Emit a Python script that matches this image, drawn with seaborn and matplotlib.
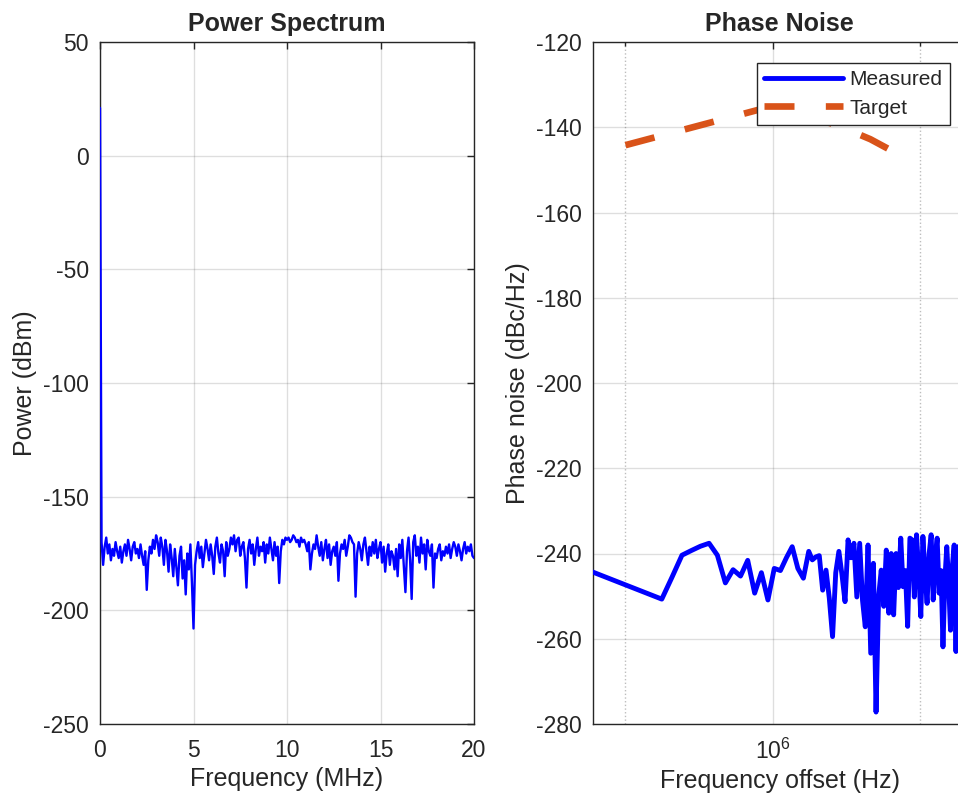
import numpy as np
import pandas as pd
import seaborn as sns
import matplotlib.pyplot as plt
from matplotlib.ticker import FixedLocator, NullFormatter, LogFormatterMathtext

# power spectrum (dBm), one value every 1/12 MHz from 0 to 20 MHz
power_dbm = [
    21, -170, -180, -172, -168, -175, -171, -178, -173, -176, -170, -174,
    -177, -172, -179, -174, -171, -176, -169, -173, -178, -172, -170, -175,
    -173, -177, -171, -176, -180, -174, -191, -178, -172, -175, -169, -173,
    -167, -170, -176, -168, -172, -180, -169, -174, -183, -171, -177, -185,
    -173, -181, -189, -176, -172, -186, -178, -193, -175, -182, -171, -188,
    -208, -180, -174, -170, -177, -172, -181, -175, -169, -173, -178, -171,
    -176, -184, -172, -168, -175, -179, -171, -174, -185, -170, -176, -173,
    -168, -171, -167, -174, -169, -168, -176, -172, -170, -177, -190, -173,
    -169, -175, -171, -180, -173, -168, -176, -172, -174, -170, -179, -171,
    -175, -168, -173, -178, -170, -176, -172, -188, -174, -169, -171, -168,
    -169, -168, -170, -169, -167, -168, -170, -169, -172, -168, -170, -169,
    -171, -174, -170, -182, -175, -171, -173, -167, -172, -176, -170, -178,
    -173, -169, -177, -171, -180, -174, -172, -176, -170, -187, -175, -171,
    -173, -169, -176, -172, -167, -168, -170, -171, -194, -175, -170, -173,
    -178, -171, -168, -174, -180, -172, -176, -170, -175, -169, -177, -173,
    -170, -179, -172, -183, -175, -171, -180, -174, -176, -182, -173, -185,
    -171, -177, -169, -181, -192, -174, -168, -178, -195, -170, -167, -176,
    -172, -179, -168, -175, -171, -182, -169, -174, -176, -171, -190, -175,
    -177, -173, -171, -178, -174, -176, -172, -175, -171, -177, -173, -170,
    -172, -176, -171, -174, -178, -173, -170, -175, -172, -174, -171, -176,
    -177,
]

# phase noise, measured (offset in kHz)
offset_khz = [
    390, 593, 622.5, 652, 681.5, 711, 740.5, 770, 799.5, 829, 858.5,
    888, 917.5, 947, 976.5, 1006, 1035.5, 1065, 1094.5, 1124, 1153.5,
    1183, 1203, 1223, 1243, 1263, 1283, 1303, 1323, 1343, 1363,
    1383, 1403, 1423, 1443, 1463, 1483, 1503, 1523, 1543, 1563,
    1583, 1603, 1623, 1643, 1663, 1683, 1703, 1723, 1743, 1763,
    1783, 1803, 1823, 1843, 1863, 1883, 1903, 1923, 1943, 1963,
    1983, 2003, 2023, 2043, 2063, 2083, 2103, 2123, 2143, 2163,
    2183, 2203, 2223, 2243, 2263, 2283, 2303, 2323, 2343, 2363,
    2383, 2403, 2423, 2443, 2463, 2483,
]
measured_dbc = [
    -242.5, -250.7, -245.5, -240.4, -239.3, -238.3, -237.6, -240.4, -246.9, -243.8, -245.3,
    -241.6, -249.3, -244.5, -250.9, -243.5, -244.0, -241.0, -238.4, -243.5, -245.8,
    -239.5, -241.5, -240.8, -240.5, -248.6, -243.9, -250.5, -259.5, -244.5, -239.5,
    -245.0, -251.3, -236.8, -241.0, -237.6, -250.2, -237.6, -251.0, -257.2, -238.0,
    -263.4, -242.3, -277.2, -250.0, -243.9, -252.4, -239.2, -254.0, -240.0, -254.4,
    -240.0, -248.0, -236.4, -247.8, -244.0, -257.1, -236.4, -236.8, -250.2, -235.6,
    -244.0, -254.8, -236.0, -245.0, -251.7, -240.0, -235.6, -250.9, -241.0, -236.4,
    -249.3, -244.0, -261.9, -246.0, -238.4, -247.0, -258.0, -243.0, -238.0, -263.0,
    -238.4, -250.0, -240.0, -255.0, -238.0, -246.0,
]

# phase noise, target mask
target_khz = [500, 1000, 1350, 1580, 1800]
target_dbc = [-144.2, -135.0, -139.5, -142.8, -146.3]

sns.set_theme(style="white")
plt.rcParams['font.family'] = ['Liberation Sans', 'DejaVu Sans']
plt.rcParams['mathtext.default'] = 'regular'
plt.rcParams['axes.unicode_minus'] = False

dark = '#262626'

fig = plt.figure(figsize=(9.58, 8.06), dpi=100)
ax1 = fig.add_axes([100 / 958, 82 / 806, 374 / 958, 682 / 806])
ax2 = fig.add_axes([593 / 958, 82 / 806, 373 / 958, 682 / 806])

spec = pd.DataFrame({'f': np.linspace(0, 20, len(power_dbm)), 'p': power_dbm})
sns.lineplot(data=spec, x='f', y='p', ax=ax1, color='#0000ff', lw=1.7,
             estimator=None, sort=False, zorder=3)

meas = pd.DataFrame({'f': np.array(offset_khz) * 1e3, 'p': measured_dbc})
targ = pd.DataFrame({'f': np.array(target_khz) * 1e3, 'p': target_dbc})
sns.lineplot(data=meas, x='f', y='p', ax=ax2, color='#0000ff', lw=3.5,
             estimator=None, sort=False, label='Measured', zorder=3)
sns.lineplot(data=targ, x='f', y='p', ax=ax2, color='#D95319', lw=4.8,
             estimator=None, sort=False, label='Target', zorder=3,
             linestyle=(0, (4.5, 4.7)))


def style_axes(ax):
    ax.grid(True, which='major', color=dark, alpha=0.15, lw=1.0)
    ax.set_axisbelow(True)
    ax.tick_params(which='both', direction='in', top=True, right=True,
                   colors=dark, labelsize=16.5, width=1.0)
    ax.tick_params(which='major', length=5)
    ax.tick_params(axis='x', which='both', pad=10.5)
    ax.tick_params(axis='y', which='both', pad=8)
    for s in ax.spines.values():
        s.set_visible(True)
        s.set_color(dark)
        s.set_linewidth(1.0)


style_axes(ax1)
ax1.set_xlim(0, 20)
ax1.set_ylim(-250, 50)
ax1.set_xticks([0, 5, 10, 15, 20])
ax1.set_yticks([-250, -200, -150, -100, -50, 0, 50])
ax1.set_xlabel('Frequency (MHz)', fontsize=18, color=dark, labelpad=4)
ax1.set_ylabel('Power (dBm)', fontsize=18, color=dark, labelpad=4)
ax1.set_title('Power Spectrum', fontsize=18, fontweight='bold', pad=8)

ax2.set_xscale('log')
style_axes(ax2)
ax2.set_xlim(4.292e5, 2.477e6)
ax2.set_ylim(-280, -120)
ax2.xaxis.set_major_locator(FixedLocator([1e6]))
ax2.xaxis.set_major_formatter(LogFormatterMathtext())
ax2.xaxis.set_minor_locator(FixedLocator([5e5, 2e6]))
ax2.xaxis.set_minor_formatter(NullFormatter())
ax2.tick_params(which='minor', length=3)
ax2.grid(True, which='minor', axis='x', ls=':', color=dark, alpha=0.3, lw=1.0)
ax2.set_yticks(list(range(-280, -119, 20)))
ax2.set_xlabel('Frequency offset (Hz)', fontsize=18, color=dark, labelpad=4)
ax2.set_ylabel('Phase noise (dBc/Hz)', fontsize=18, color=dark, labelpad=4)
ax2.set_title('Phase Noise', fontsize=18, fontweight='bold', pad=8)

leg = ax2.legend(loc='upper right', bbox_to_anchor=(950 / 958, 1 - 63 / 806),
                 bbox_transform=fig.transFigure, fontsize=15, frameon=True,
                 fancybox=False, edgecolor=dark, framealpha=1, borderpad=0.35,
                 labelspacing=0.45, handlelength=3.8, handletextpad=0.3,
                 borderaxespad=0)
leg.get_frame().set_linewidth(1.0)
for t in leg.get_texts():
    t.set_color(dark)

fig.savefig('out.png', dpi=100)
